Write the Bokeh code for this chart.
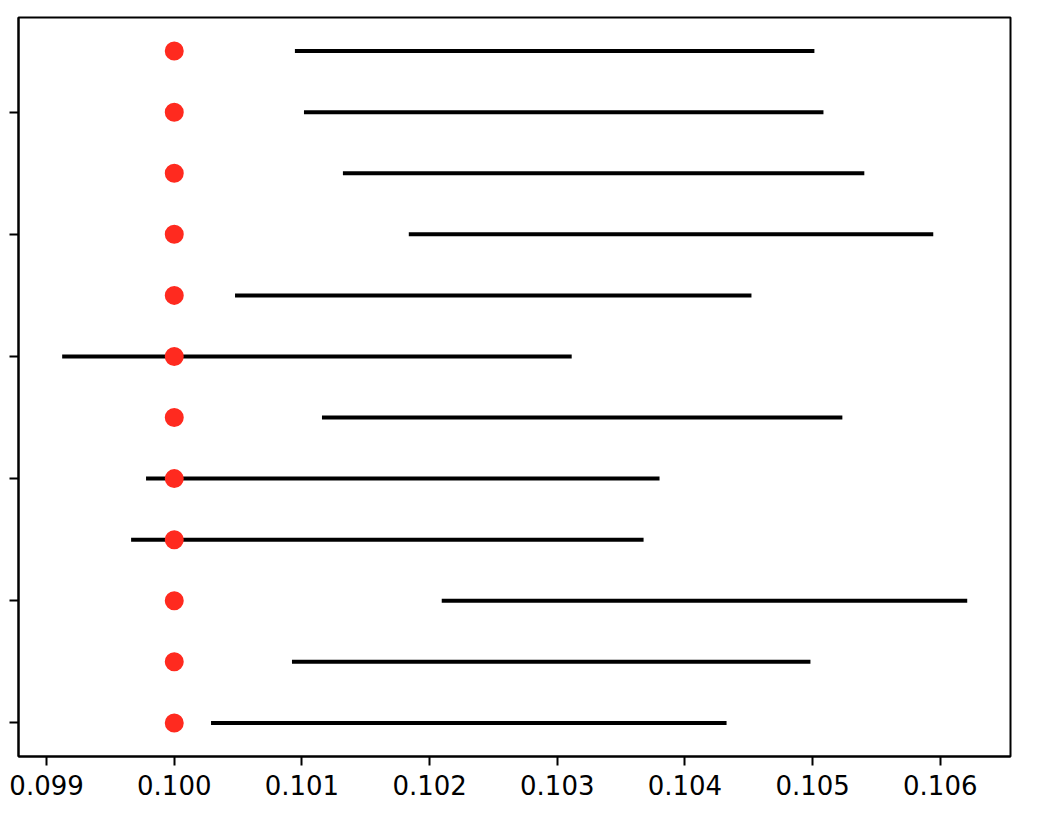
from bokeh.plotting import figure
from bokeh.models import Range1d, FixedTicker, ColumnDataSource
from bokeh.embed import file_html
from bokeh.resources import INLINE

# Row index (bottom = 0) and interval bounds
rows = list(range(12))
lower = [0.100288, 0.100922, 0.102095, 0.099662, 0.099779, 0.101157,
         0.099122, 0.100476, 0.101837, 0.101321, 0.101016, 0.100945]
upper = [0.104326, 0.104983, 0.106211, 0.103676, 0.103801, 0.105233,
         0.103113, 0.104521, 0.105945, 0.105405, 0.105085, 0.105014]
point = [0.100] * 12
y_ticks = [0, 2, 4, 6, 8, 10]
x_ticks = [0.099, 0.100, 0.101, 0.102, 0.103, 0.104, 0.105, 0.106]

src = ColumnDataSource(dict(y=rows, lo=lower, hi=upper, pt=point))

p = figure(frame_width=992, frame_height=739,
           x_range=Range1d(0.09878, 0.10655), y_range=Range1d(-0.55, 11.55),
           output_backend="svg", toolbar_location=None,
           min_border_left=18, min_border_top=17, min_border_right=20,
           min_border_bottom=70)

p.segment(x0="lo", x1="hi", y0="y", y1="y", source=src,
          line_color="black", line_width=4)
p.scatter(x="pt", y="y", source=src, size=19, fill_color="#ff2a1f",
          line_color=None)

p.xgrid.visible = False
p.ygrid.visible = False
p.outline_line_color = "black"
p.outline_line_width = 2
p.outline_line_alpha = 1
p.background_fill_color = "white"
p.border_fill_color = "white"

ax = p.xaxis[0]
ax.ticker = FixedTicker(ticks=x_ticks)
ax.major_label_overrides = {t: f"{t:.3f}" for t in x_ticks}
ax.major_label_text_font = "DejaVu Sans"
ax.major_label_text_font_size = "26px"
ax.major_label_text_color = "black"
ax.major_label_standoff = 9
ax.major_tick_in = 0
ax.major_tick_out = 9
ax.minor_tick_in = 0
ax.minor_tick_out = 0
ax.major_tick_line_width = 2
ax.axis_line_width = 2
ax.axis_line_color = "black"

ay = p.yaxis[0]
ay.ticker = FixedTicker(ticks=y_ticks)
ay.major_label_overrides = {t: "" for t in y_ticks}
ay.major_label_standoff = 0
ay.major_tick_in = 0
ay.major_tick_out = 9
ay.minor_tick_in = 0
ay.minor_tick_out = 0
ay.major_tick_line_width = 2
ay.axis_line_width = 2
ay.axis_line_color = "black"

open("out.html", "w").write(file_html(p, INLINE))
